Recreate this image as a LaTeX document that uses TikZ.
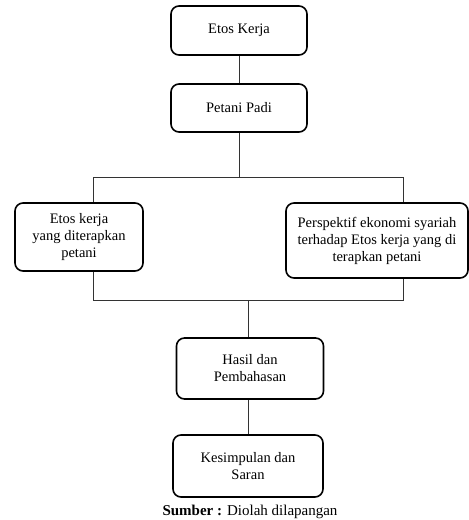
\documentclass[tikz,border=0pt]{standalone}
\usepackage{fontspec}
\setmainfont{Liberation Serif}
\begin{document}
\begin{tikzpicture}[x=1pt, y=-1pt,
        kotak/.style = {draw, line width = 1.6pt, rounded corners = 8pt, align = center,
            inner sep = 2pt, font = \fontsize{14.5}{17}\selectfont},
        garis/.style = {line width = 0.8pt, gray!40!black}]
    \useasboundingbox (0,0) rectangle (469,520);
    % kotak
    \node[kotak, minimum width = 136pt, minimum height = 49pt] (etos) at (239,30.5) {Etos Kerja};
    \node[kotak, minimum width = 136pt, minimum height = 48pt] (petani) at (239,108) {Petani Padi};
    \node[kotak, minimum width = 128pt, minimum height = 68pt] (diterapkan) at (79,237) {Etos kerja\\yang diterapkan\\petani};
    \node[kotak, minimum width = 182pt, minimum height = 75pt] (perspektif) at (377,240.5) {Perspektif ekonomi syariah\\terhadap Etos kerja yang di\\terapkan petani};
    \node[kotak, minimum width = 147pt, minimum height = 61pt] (hasil) at (250,368.5) {Hasil dan\\Pembahasan};
    \node[kotak, minimum width = 150pt, minimum height = 62pt] (simpulan) at (248,466) {Kesimpulan dan\\Saran};
    \node[font = \fontsize{15}{17}\selectfont] (sumber) at (250,512) {\textbf{Sumber :} Diolah dilapangan};
    % garis penghubung
    \coordinate (atasL) at (93,177);
    \coordinate (atasR) at (403,177);
    \coordinate (bawahL) at (93,300);
    \coordinate (bawahR) at (403,300);
    \coordinate (tengah) at (248,300);
    \draw[garis] (etos) -- (petani);
    \draw[garis] (petani.south) -- (petani.south |- atasL);
    \draw[garis] (atasL |- diterapkan.north) -- (atasL) -- (atasR) -- (atasR |- perspektif.north);
    \draw[garis] (atasL |- diterapkan.south) -- (bawahL) -- (bawahR) -- (atasR |- perspektif.south);
    \draw[garis] (tengah) -- (tengah |- hasil.north);
    \draw[garis] (tengah |- hasil.south) -- (tengah |- simpulan.north);
\end{tikzpicture}
\end{document}
